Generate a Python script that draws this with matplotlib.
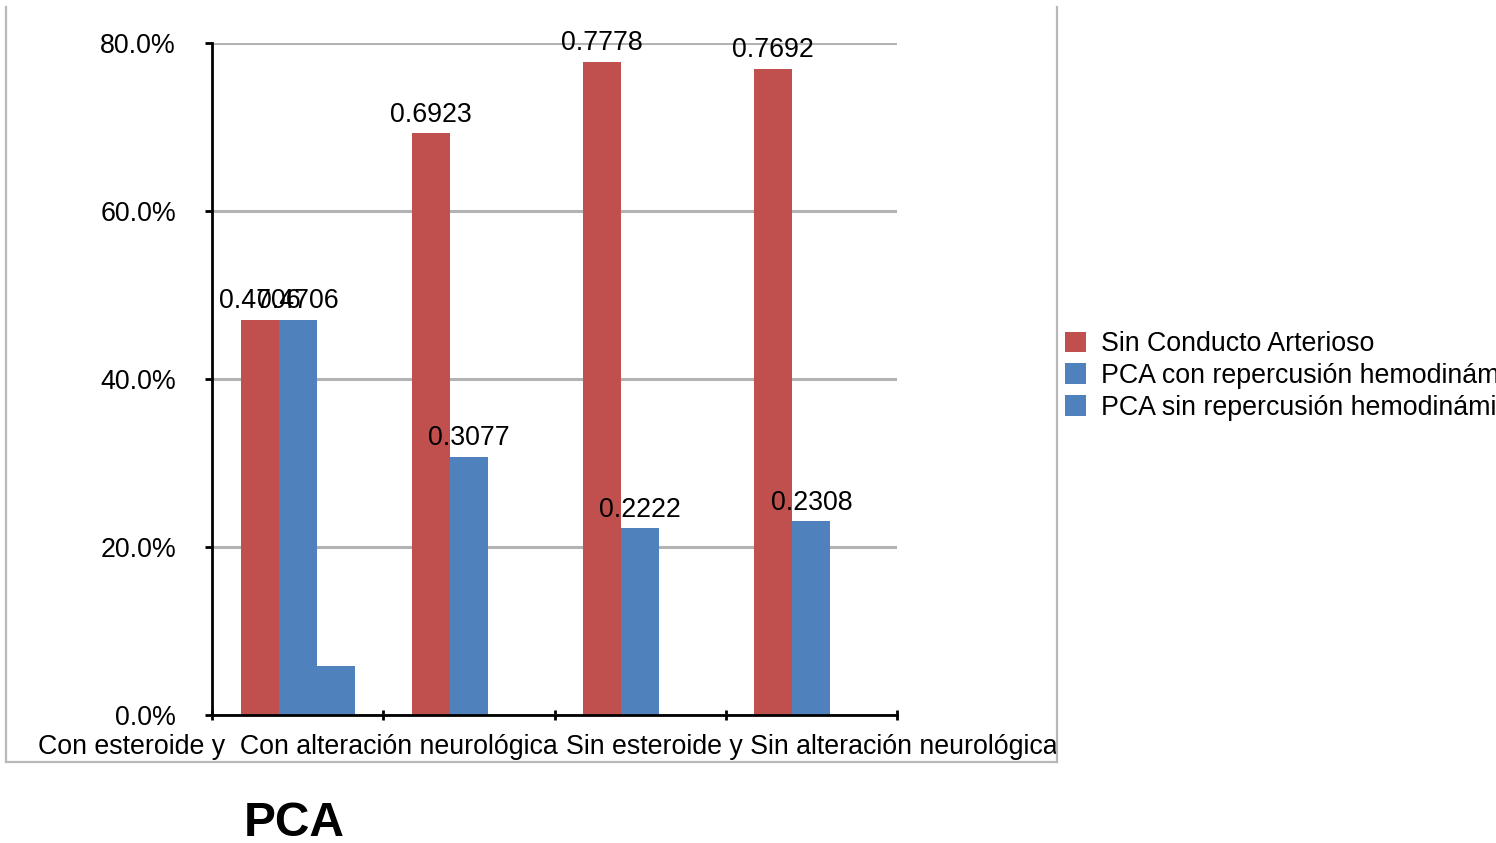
import matplotlib
matplotlib.use("Agg")
import matplotlib.pyplot as plt
from matplotlib.lines import Line2D
import numpy as np

plt.rcParams['font.family'] = ['Liberation Sans', 'DejaVu Sans']

categories = ["Con esteroide y  Con alteración neurológica", "", "",
              "Sin esteroide y Sin alteración neurológica"]
series_names = ["Sin Conducto Arterioso",
                "PCA con repercusión hemodinámica",
                "PCA sin repercusión hemodinámica"]
sin_conducto = [0.4706, 0.6923, 0.7778, 0.7692]
pca_con = [0.4706, 0.3077, 0.2222, 0.2308]
pca_sin = [0.0588, 0.0, 0.0, 0.0]
show_label = [[True, True, True, True], [True, True, True, True], [False, False, False, False]]
colors = ["#C0504D", "#4F81BD", "#4F81BD"]
yticks = [0.0, 0.2, 0.4, 0.6, 0.8]

W, H = 1496, 843
fig = plt.figure(figsize=(W / 100, H / 100), dpi=100)
ax = fig.add_axes([212 / W, 1 - 715 / H, (897 - 212) / W, (715 - 43) / H])

FS = 19.3
x = np.arange(len(categories))
bw = 0.222
series = [sin_conducto, pca_con, pca_sin]
for i, (vals, c, name) in enumerate(zip(series, colors, series_names)):
    pos = x + (i - 1) * bw
    ax.bar(pos, vals, width=bw, color=c, label=name, zorder=3)
    for p, v, s in zip(pos, vals, show_label[i]):
        if s:
            ax.annotate(f"{v:.4f}", (p, v), xytext=(0, 4), textcoords="offset points",
                        ha="center", va="bottom", fontsize=FS, zorder=5)

ax.set_xlim(-0.5, len(categories) - 0.5)
ax.set_ylim(0, 0.8)
ax.set_yticks(yticks)
ax.set_yticklabels([f"{t*100:.1f}%" for t in yticks], fontsize=FS)
ax.set_xticks(x)
ax.set_xticklabels(categories, fontsize=FS)
ax.set_xticks(np.arange(-0.5, len(categories)), minor=True)
ax.tick_params(axis="x", which="major", length=0, pad=14)
ax.tick_params(axis="x", which="minor", length=7, width=2, direction="inout")
ax.tick_params(axis="y", length=5, width=2, pad=21)
ax.yaxis.grid(True, color="#b3b3b3", linewidth=2.2, zorder=0)
ax.set_axisbelow(True)
for s in ["top", "right"]:
    ax.spines[s].set_visible(False)
for s in ["left", "bottom"]:
    ax.spines[s].set_linewidth(2)
    ax.spines[s].set_color("black")
    ax.spines[s].set_zorder(4)

leg = fig.legend(loc="center left", bbox_to_anchor=(1065 / W, 1 - 376 / H),
                 bbox_transform=fig.transFigure, frameon=False, fontsize=FS,
                 handlelength=0.8, handleheight=0.8, handletextpad=0.55,
                 labelspacing=0.22, borderpad=0, borderaxespad=0)

# outer border of chart area
bc = "#b8b8b8"
fig.add_artist(Line2D([6 / W, 6 / W], [1 - 7 / H, 1 - 762 / H], color=bc, lw=1.6, transform=fig.transFigure))
fig.add_artist(Line2D([1057 / W, 1057 / W], [1 - 7 / H, 1 - 762 / H], color=bc, lw=1.6, transform=fig.transFigure))
fig.add_artist(Line2D([6 / W, 1057 / W], [1 - 762 / H, 1 - 762 / H], color=bc, lw=1.6, transform=fig.transFigure))

fig.text(294 / W, 1 - 823 / H, "PCA", fontsize=34.5, fontweight="bold", ha="center", va="center")

fig.savefig("out.png", dpi=100)
